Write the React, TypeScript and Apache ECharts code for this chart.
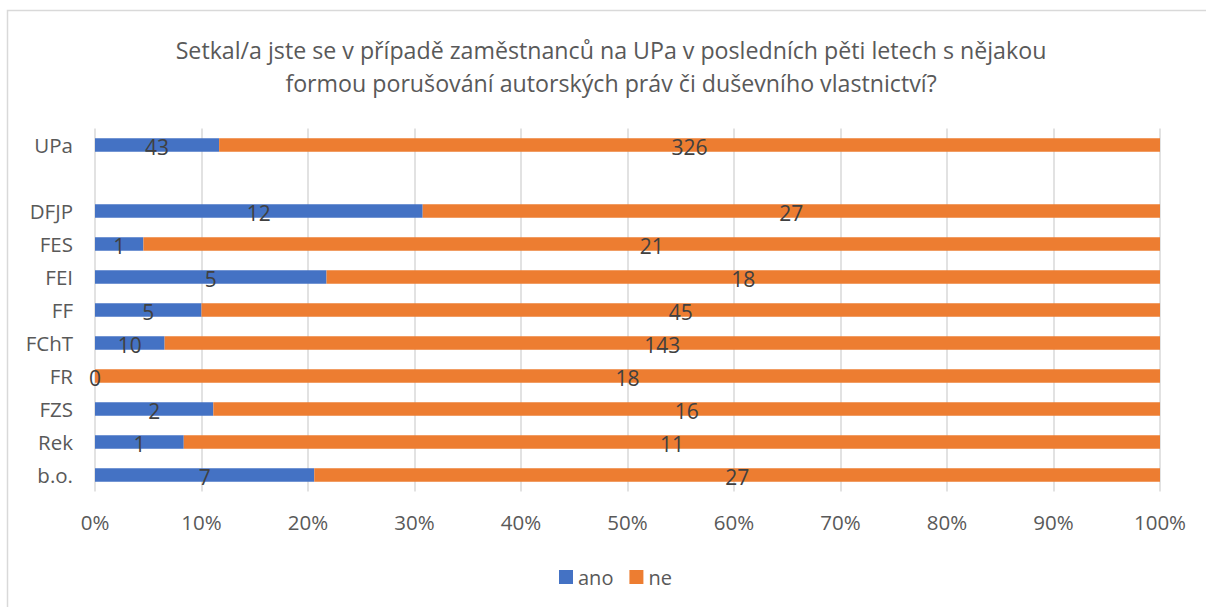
import React, { useEffect, useRef } from "react";
import * as echarts from "echarts";

const titleText =
  "Setkal/a jste se v případě zaměstnanců na UPa v posledních pěti letech s nějakou\nformou porušování autorských práv či duševního vlastnictví?";
const categories = ["UPa", "", "DFJP", "FES", "FEI", "FF", "FChT", "FR", "FZS", "Rek", "b.o."];
const anoCounts: (number | null)[] = [43, null, 12, 1, 5, 5, 10, 0, 2, 1, 7];
const neCounts: (number | null)[] = [326, null, 27, 21, 18, 45, 143, 18, 16, 11, 27];
const xTicks = [0, 10, 20, 30, 40, 50, 60, 70, 80, 90, 100];

const FONT = "'Open Sans', 'Noto Sans', sans-serif";

function pct(a: number | null, b: number | null, which: "a" | "b") {
  if (a == null || b == null) return null;
  const t = a + b;
  if (t === 0) return 0;
  return ((which === "a" ? a : b) / t) * 100;
}

export default function App() {
  const ref = useRef<HTMLDivElement>(null);
  useEffect(() => {
    if (!ref.current) return;
    const chart = echarts.init(ref.current, undefined, { renderer: "svg" });
    const anoData = categories.map((_, i) => {
      const v = pct(anoCounts[i], neCounts[i], "a");
      return v == null ? null : { value: v, count: anoCounts[i] };
    });
    const neData = categories.map((_, i) => {
      const v = pct(anoCounts[i], neCounts[i], "b");
      return v == null ? null : { value: v, count: neCounts[i] };
    });
    const labelCfg = {
      show: true,
      position: "inside" as const,
      color: "#404040",
      fontSize: 21,
      fontFamily: FONT,
      offset: [0, 2],
      formatter: (p: any) => (p.data && p.data.count != null ? String(p.data.count) : ""),
    };
    chart.setOption({
      animation: false,
      backgroundColor: "#ffffff",
      textStyle: { fontFamily: FONT },
      graphic: [
        {
          type: "rect",
          shape: { x: 7.5, y: 10.5, width: 1220, height: 620 },
          style: { fill: "none", stroke: "#d9d9d9", lineWidth: 1.5 },
          silent: true,
        },
      ],
      title: {
        text: titleText,
        left: 606,
        top: 28,
        textAlign: "center",
        textStyle: {
          fontFamily: FONT,
          fontSize: 23.2,
          fontWeight: "normal",
          color: "#595959",
          lineHeight: 33,
        },
      },
      legend: {
        bottom: 15,
        left: 554,
        itemWidth: 14,
        itemHeight: 14,
        itemGap: 16,
        icon: "rect",
        textStyle: { color: "#595959", fontSize: 20, fontFamily: FONT },
        data: ["ano", "ne"],
      },
      grid: { left: 95, right: 46, top: 128.5, bottom: 115.5, containLabel: false },
      xAxis: {
        type: "value",
        min: 0,
        max: 100,
        interval: 10,
        axisLine: { show: false },
        axisTick: { show: false },
        splitLine: { show: true, lineStyle: { color: "#d9d9d9", width: 1.5 } },
        axisLabel: {
          color: "#595959",
          fontSize: 20.5,
          fontFamily: FONT,
          margin: 20,
          formatter: (v: number) => (xTicks.includes(v) ? v + "%" : ""),
        },
      },
      yAxis: {
        type: "category",
        inverse: true,
        data: categories,
        axisLine: { show: false },
        axisTick: { show: false },
        axisLabel: { color: "#595959", fontSize: 20.5, fontFamily: FONT, margin: 22 },
      },
      series: [
        {
          name: "ano",
          type: "bar",
          stack: "total",
          barWidth: 13.5,
          itemStyle: { color: "#4472C4" },
          label: labelCfg,
          data: anoData,
        },
        {
          name: "ne",
          type: "bar",
          stack: "total",
          barWidth: 13.5,
          itemStyle: { color: "#ED7D31" },
          label: labelCfg,
          data: neData,
        },
      ],
    });
    return () => chart.dispose();
  }, []);
  return (
    <div
      ref={ref}
      style={{ position: "absolute", left: 0, top: 0, width: 1206, height: 607 }}
    />
  );
}
